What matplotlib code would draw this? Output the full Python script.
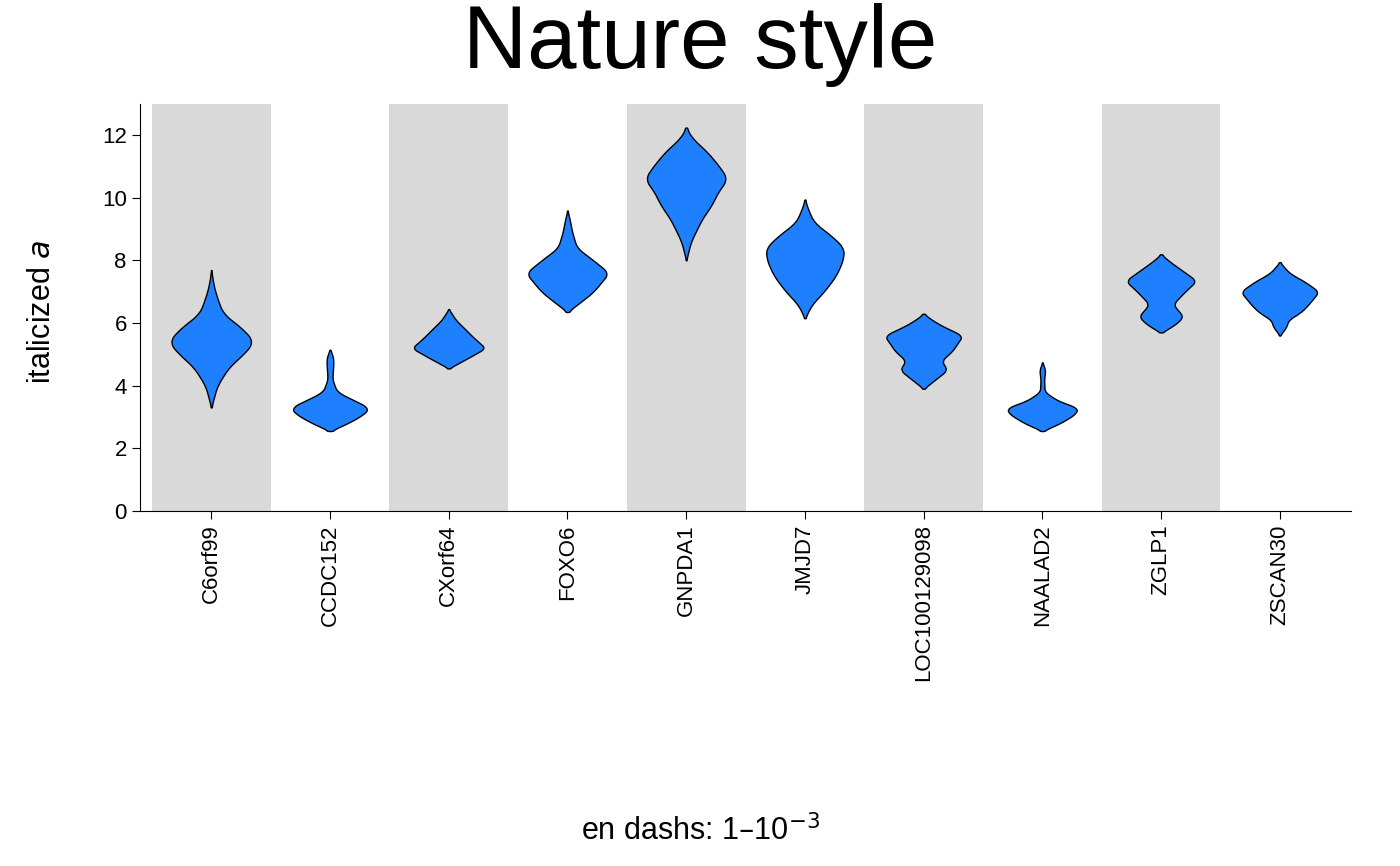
import matplotlib.pyplot as plt
import numpy as np

plt.rcParams['font.family'] = ['Liberation Sans', 'DejaVu Sans']

genes = ["C6orf99", "CCDC152", "CXorf64", "FOXO6", "GNPDA1",
         "JMJD7", "LOC100129098", "NAALAD2", "ZGLP1", "ZSCAN30"]

# violin outlines: y levels and half-widths
c6orf99_y = [3.3, 4.0, 4.6, 5.0, 5.4, 5.8, 6.3, 6.8, 7.2, 7.7]
c6orf99_w = [0, 0.05, 0.15, 0.27, 0.36, 0.27, 0.1, 0.05, 0.02, 0]
ccdc152_y = [2.55, 2.8, 3.1, 3.3, 3.5, 3.8, 4.2, 4.8, 5.0, 5.15]
ccdc152_w = [0, 0.15, 0.29, 0.33, 0.22, 0.06, 0.02, 0.03, 0.02, 0]
cxorf64_y = [4.55, 4.9, 5.2, 5.5, 5.8, 6.1, 6.45]
cxorf64_w = [0, 0.17, 0.31, 0.22, 0.14, 0.06, 0]
foxo6_y = [6.35, 6.7, 7.0, 7.6, 8.0, 8.4, 8.9, 9.3, 9.6]
foxo6_w = [0, 0.12, 0.22, 0.35, 0.22, 0.08, 0.04, 0.02, 0]
gnpda1_y = [8.0, 8.6, 9.3, 9.8, 10.2, 10.6, 11.0, 11.5, 11.9, 12.25]
gnpda1_w = [0, 0.04, 0.13, 0.22, 0.27, 0.35, 0.28, 0.17, 0.05, 0]
jmjd7_y = [6.15, 6.6, 7.0, 7.5, 8.0, 8.4, 8.8, 9.2, 9.6, 9.95]
jmjd7_w = [0, 0.06, 0.16, 0.26, 0.32, 0.33, 0.22, 0.08, 0.03, 0]
loc_y = [3.9, 4.2, 4.5, 4.8, 5.1, 5.6, 5.9, 6.1, 6.3]
loc_w = [0, 0.1, 0.2, 0.15, 0.24, 0.33, 0.16, 0.07, 0]
naalad2_y = [2.55, 2.8, 3.1, 3.3, 3.5, 3.8, 4.2, 4.5, 4.75]
naalad2_w = [0, 0.15, 0.28, 0.3, 0.14, 0.02, 0.015, 0.025, 0]
zglp1_y = [5.7, 5.9, 6.2, 6.6, 7.0, 7.35, 7.7, 8.0, 8.2]
zglp1_w = [0, 0.1, 0.19, 0.1, 0.2, 0.3, 0.17, 0.06, 0]
zscan30_y = [5.6, 5.9, 6.1, 6.3, 6.5, 7.0, 7.3, 7.6, 7.95]
zscan30_w = [0, 0.06, 0.07, 0.16, 0.22, 0.33, 0.22, 0.08, 0]

profiles = [(c6orf99_y, c6orf99_w), (ccdc152_y, ccdc152_w), (cxorf64_y, cxorf64_w),
            (foxo6_y, foxo6_w), (gnpda1_y, gnpda1_w), (jmjd7_y, jmjd7_w),
            (loc_y, loc_w), (naalad2_y, naalad2_w), (zglp1_y, zglp1_w),
            (zscan30_y, zscan30_w)]

fig, ax = plt.subplots(figsize=(14, 8.66), dpi=100)
fig.subplots_adjust(left=0.1, right=0.965, top=0.88, bottom=0.41)

for i in range(0, len(genes), 2):
    ax.axvspan(i - 0.5, i + 0.5, color="#d9d9d9", lw=0, zorder=0)

for i, (ys, ws) in enumerate(profiles):
    yy = np.linspace(ys[0], ys[-1], 300)
    ww = np.interp(yy, ys, ws)
    k = np.ones(31) / 31
    ww = np.convolve(np.pad(ww, 15, mode="constant"), k, mode="valid")
    ww[0] = ww[-1] = 0
    ax.fill_betweenx(yy, i - ww, i + ww, facecolor="#1E80FF",
                     edgecolor="black", lw=1, zorder=2)

ax.set_xlim(-0.6, 9.6)
ax.set_ylim(0, 13)
ax.set_yticks(range(0, 13, 2))
ax.set_xticks(range(len(genes)))
ax.set_xticklabels(genes, rotation=90, fontsize=16)
ax.tick_params(axis="y", labelsize=16)
ax.tick_params(direction="out", length=6)
for s in ["top", "right"]:
    ax.spines[s].set_visible(False)
fig.text(0.03, 0.64, "italicized $\\it{a}$", fontsize=22, rotation=90,
         ha="center", va="center")
fig.text(0.5, 0.04, "en dashs: 1\u201310$^{\u22123}$", fontsize=22,
         ha="center", va="center")
fig.text(0.5, 0.948, "Nature style", fontsize=64, ha="center", va="center")

fig.savefig("out.png")
